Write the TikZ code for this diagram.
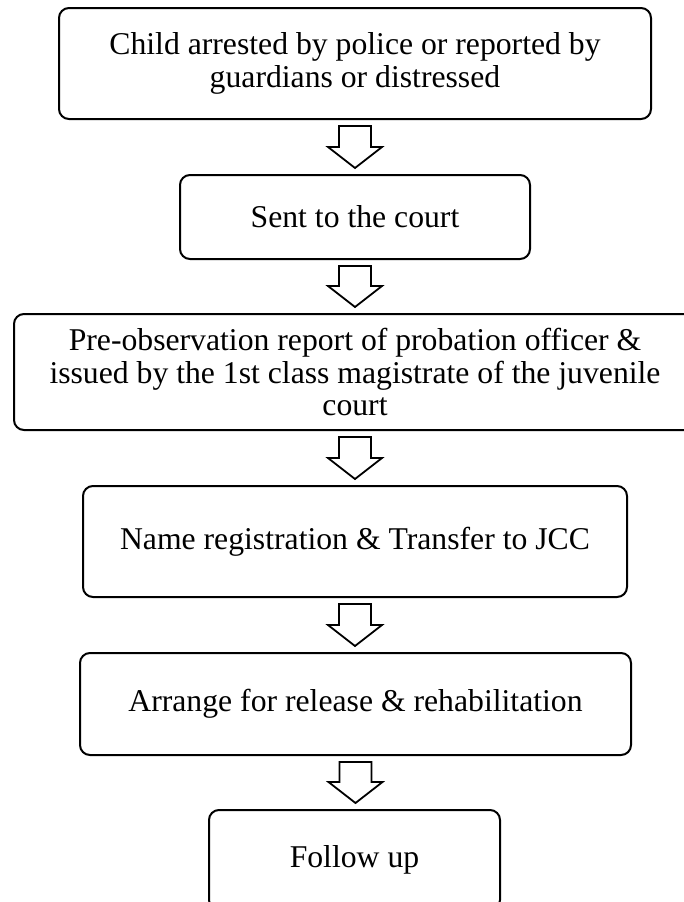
\documentclass[tikz,border=0pt]{standalone}
\usepackage{fontspec}
\setmainfont{Liberation Serif}
\usetikzlibrary{calc}

\tikzset{
  stagebox/.style={draw=black, line width=2pt, rounded corners=10pt,
    align=center, inner sep=0pt,
    font=\fontsize{31.7}{32.5}\selectfont},
  flowarr/.style={draw=black, line width=1.8pt, fill=white, line join=miter}
}

% hollow block arrow from the bottom of one stage to the top of the next
\newcommand{\flowarrow}[2]{%
  \draw[flowarr] let \p1=(#1.south), \p2=(#2.north) in
    (\x1-16pt,\y1-6pt) -- (\x1+16pt,\y1-6pt) -- (\x1+16pt,\y2+27pt)
    -- (\x1+27pt,\y2+27pt) -- (\x1,\y2+6pt) -- (\x1-27pt,\y2+27pt)
    -- (\x1-16pt,\y2+27pt) -- cycle;}

\begin{document}
\begin{tikzpicture}[x=1pt, y=-1pt]
  \useasboundingbox (0,0) rectangle (683,902);

  \node[stagebox, minimum width=592pt, minimum height=111pt] (s1) at (355,63.5)
    {Child arrested by police or reported by\\guardians or distressed};
  \node[stagebox, minimum width=350pt, minimum height=84pt] (s2) at (355,217)
    {Sent to the court};
  \node[stagebox, minimum width=682pt, minimum height=116pt] (s3) at (355,372)
    {Pre-observation report of probation officer \&\\issued by the 1st class magistrate of the juvenile\\court};
  \node[stagebox, minimum width=544pt, minimum height=111pt] (s4) at (355,541.5)
    {Name registration \& Transfer to JCC};
  \node[stagebox, minimum width=551pt, minimum height=102pt] (s5) at (355.5,704)
    {Arrange for release \& rehabilitation};
  \node[stagebox, minimum width=291pt, minimum height=100pt] (s6) at (354.5,860)
    {Follow up};

  \flowarrow{s1}{s2}
  \flowarrow{s2}{s3}
  \flowarrow{s3}{s4}
  \flowarrow{s4}{s5}
  \flowarrow{s5}{s6}
\end{tikzpicture}
\end{document}
